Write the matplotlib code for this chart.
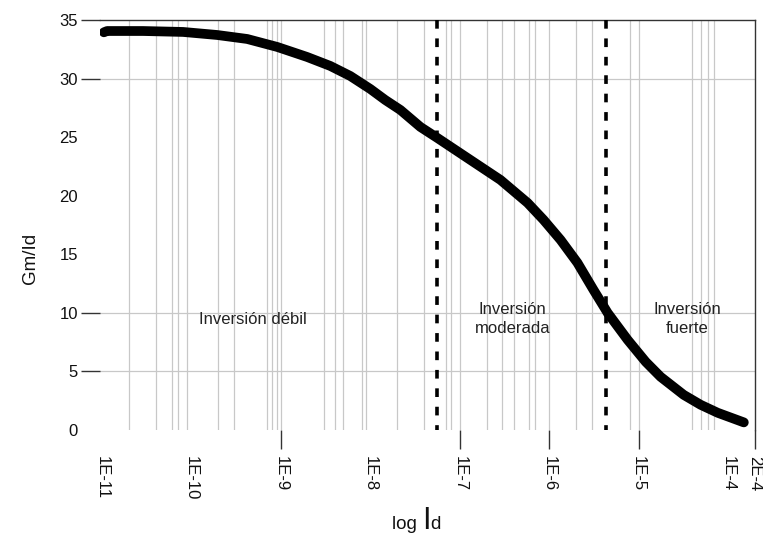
import matplotlib
matplotlib.use("Agg")
import matplotlib.pyplot as plt
from matplotlib.offsetbox import TextArea, HPacker, AnchoredOffsetbox

plt.rcParams['font.family'] = ['Liberation Sans', 'DejaVu Sans']

# ---- data ----
Id = [1.05e-11, 1.14e-11, 2.88e-11, 8.07e-11, 1.94e-10, 4.20e-10, 9.1e-10, 1.34e-9,
      1.97e-9, 3.56e-9, 5.97e-9, 1.0e-8, 1.47e-8, 2.17e-8, 3.63e-8, 5.62e-8,
      1.22e-7, 2.85e-7, 5.73e-7, 8.65e-7, 1.34e-6, 2.07e-6, 3.13e-6, 4.50e-6,
      7.53e-6, 1.20e-5, 1.76e-5, 3.19e-5, 4.94e-5, 7.66e-5, 1.50e-4]
Gm = [33.95, 34.06, 34.06, 33.98, 33.72, 33.38, 32.70, 32.27,
      31.84, 31.08, 30.22, 29.11, 28.17, 27.32, 25.87, 24.93,
      23.22, 21.35, 19.39, 17.94, 16.23, 14.27, 11.96, 10.0,
      7.70, 5.82, 4.54, 3.00, 2.15, 1.47, 0.65]

region_bounds = [5.62e-8, 4.28e-6]
region_labels = ['Inversión débil', 'Inversión\nmoderada', 'Inversión\nfuerte']

x_tick_vals = [1e-11, 1e-10, 1e-9, 1e-8, 1e-7, 1e-6, 1e-5, 1e-4, 2e-4]
x_tick_labels = ['1E-11', '1E-10', '1E-9', '1E-8', '1E-7', '1E-6', '1E-5', '1E-4', '2E-4']
x_tick_marks = [1e-9, 1e-7, 1e-6, 1e-5, 2e-4]
x_grid = [2e-11, 4e-11, 6e-11, 7e-11, 9e-11,
          2e-10, 3e-10, 7e-10, 8e-10, 9e-10, 1e-9,
          3e-9, 4e-9, 5e-9, 8e-9, 9e-9,
          2e-8, 4e-8, 7e-8, 8e-8, 1e-7,
          2e-7, 3e-7, 4e-7, 6e-7, 7e-7, 1e-6,
          2e-6, 3e-6, 8e-6, 1e-5,
          4e-5, 5e-5, 6e-5, 7e-5]
y_tick_vals = [0, 5, 10, 15, 20, 25, 30, 35]
y_tick_marks = [5, 10, 30, 35]
y_grid = [5, 10, 30]

W, H = 763, 538
fig = plt.figure(figsize=(W / 100, H / 100), dpi=100)
ax = fig.add_axes([100 / W, 1 - 430 / H, (755 - 100) / W, (430 - 20) / H])
ax.set_xscale('log')
ax.set_xlim(10 ** (-11 - 2 / 89.33), 2e-4)
ax.set_ylim(0, 35)
ax.grid(False)
ax.xaxis.remove_overlapping_locs = False
ax.yaxis.remove_overlapping_locs = False

grid_c = '#c8c8c8'
for v in x_grid:
    ax.axvline(v, color=grid_c, lw=0.9, zorder=0)
for v in y_grid:
    ax.axhline(v, color=grid_c, lw=0.9, zorder=0)

for s in ['left', 'bottom']:
    ax.spines[s].set_visible(False)
for s in ['top', 'right']:
    ax.spines[s].set_color('#333333')
    ax.spines[s].set_linewidth(1.0)

ax.set_xticks(x_tick_vals)
ax.set_xticklabels(x_tick_labels, rotation=270, ha='center', va='top')
ax.set_xticks(x_tick_marks, minor=True)
ax.set_xticklabels([''] * len(x_tick_marks), minor=True)
ax.tick_params(axis='x', which='major', length=0, pad=18.5, labelsize=12, labelcolor='#111111')
ax.tick_params(axis='x', which='minor', length=14, width=1.0, color='#333333')

ax.set_yticks(y_tick_vals)
ax.set_yticks(y_tick_marks, minor=True)
ax.set_yticklabels([''] * len(y_tick_marks), minor=True)
ax.tick_params(axis='y', which='major', length=0, pad=16, labelsize=12, labelcolor='#111111')
ax.tick_params(axis='y', which='minor', length=13.5, width=1.0, color='#333333')

# curve
ax.plot(Id, Gm, color='black', lw=7, solid_capstyle='round', solid_joinstyle='round', zorder=3)

# region boundaries
for b in region_bounds:
    ax.plot([b, b], [35, 0], color='black', lw=2.6, linestyle=(0, (2.4, 2.7)),
            dash_capstyle='butt', zorder=4, clip_on=False)

# region labels
label_pos = [(4.9e-10, 9.4), (3.9e-7, 9.5), (3.5e-5, 9.5)]
for (lx, ly), t in zip(label_pos, region_labels):
    ax.text(lx, ly, t, ha='center', va='center', fontsize=12, color='#222222',
            linespacing=1.3, zorder=5)

# axis labels
fig.text(30 / W, 1 - 258 / H, 'Gm/Id', rotation=90, ha='center', va='center',
         fontsize=13.5, color='#111111')

ta1 = TextArea('log ', textprops=dict(fontsize=13.5, color='#111111'))
ta2 = TextArea('I', textprops=dict(fontsize=22, color='#111111'))
ta3 = TextArea('d', textprops=dict(fontsize=13.5, color='#111111'))
box = HPacker(children=[ta1, ta2, ta3], align='baseline', pad=0, sep=0)
anch = AnchoredOffsetbox(loc='center', child=box, frameon=False,
                         bbox_to_anchor=(416 / W, 1 - 521 / H),
                         bbox_transform=fig.transFigure, borderpad=0, pad=0)
fig.add_artist(anch)

fig.savefig('out.png', dpi=100)
